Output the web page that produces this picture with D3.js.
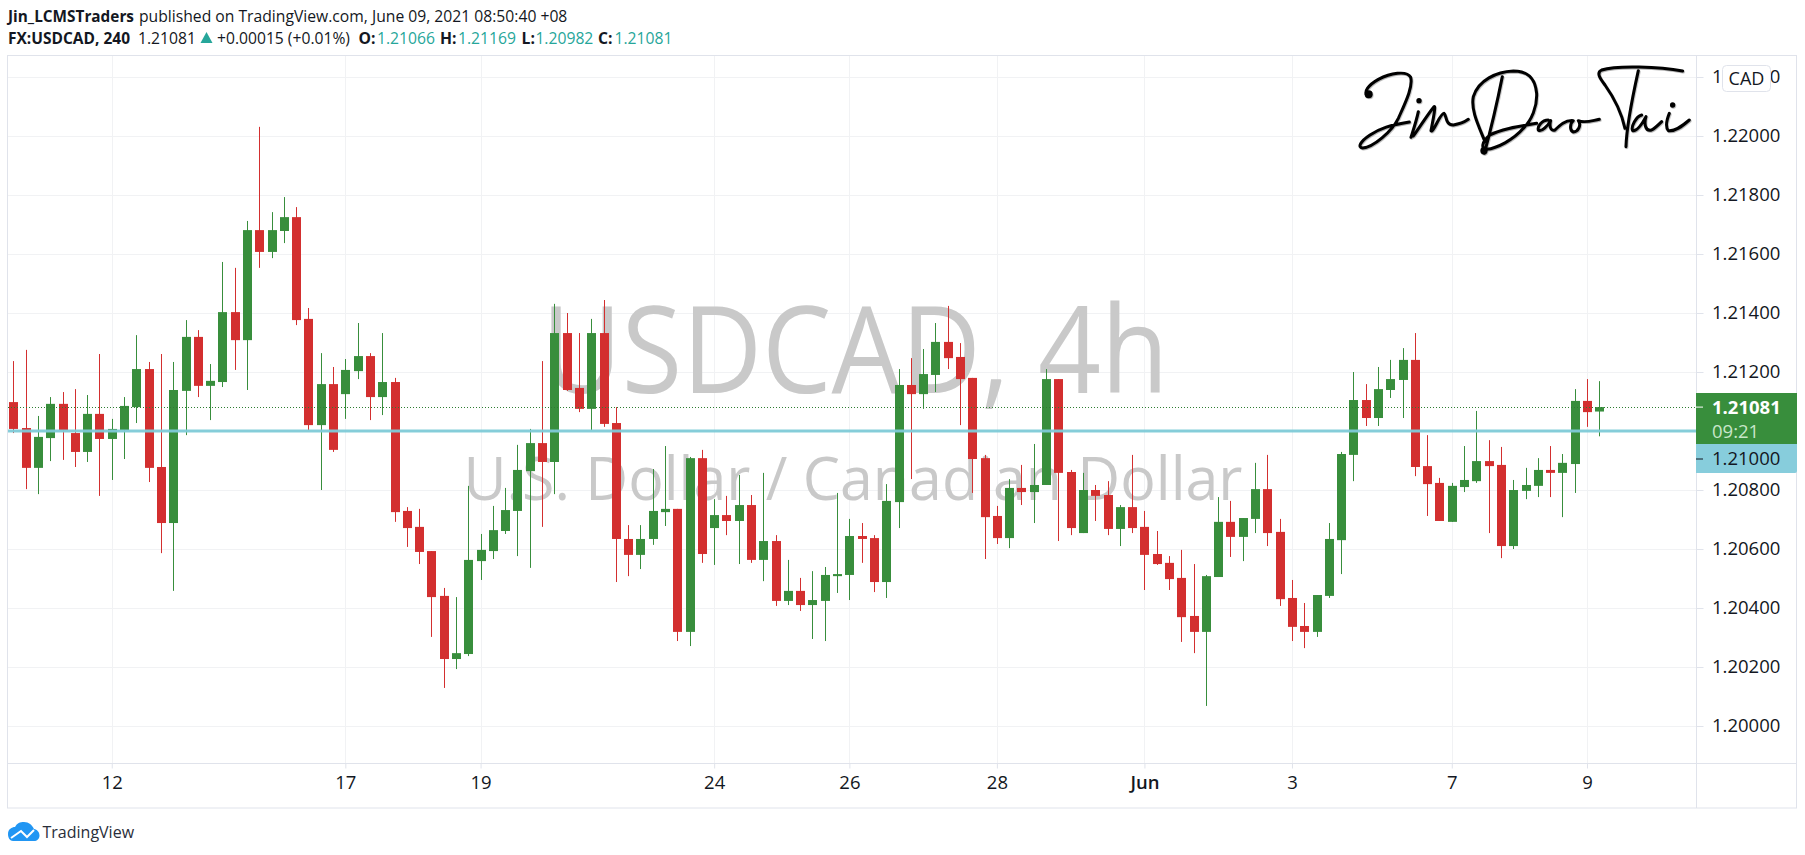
<!DOCTYPE html>
<html>
<head>
<meta charset="utf-8">
<script src="https://cdnjs.cloudflare.com/ajax/libs/d3/7.8.5/d3.min.js"></script>
<style>
  html, body { margin: 0; padding: 0; background: #fff; }
  svg { display: block; }
  text { font-family: "Open Sans", "Noto Sans", sans-serif; }
</style>
</head>
<body>
<div id="chart"></div>
<script>
// 4h USDCAD candles
const opens = [
  1.21098,1.21010,1.20875,1.20976,1.21092,1.20993,1.20929,1.21058,1.20973,1.21003,
  1.21081,1.21210,1.20878,1.20688,1.21136,1.21319,1.21153,1.21166,1.21403,1.21308,
  1.21681,1.21607,1.21678,1.21725,1.21380,1.21020,1.21159,1.21125,1.21203,1.21254,
  1.21115,1.21166,1.20729,1.20675,1.20593,1.20441,1.20227,1.20244,1.20559,1.20593,
  1.20661,1.20729,1.20864,1.20959,1.20895,1.21332,1.21146,1.21075,1.21332,1.21027,
  1.20634,1.20580,1.20634,1.20725,1.20736,1.20319,1.20908,1.20671,1.20715,1.20695,
  1.20749,1.20563,1.20627,1.20424,1.20458,1.20410,1.20424,1.20508,1.20512,1.20644,
  1.20637,1.20488,1.20759,1.21156,1.21125,1.21190,1.21302,1.21251,1.21180,1.20908,
  1.20712,1.20637,1.20807,1.20793,1.20817,1.21176,1.20861,1.20654,1.20800,1.20783,
  1.20668,1.20742,1.20675,1.20583,1.20553,1.20502,1.20373,1.20319,1.20505,1.20692,
  1.20641,1.20702,1.20803,1.20658,1.20434,1.20339,1.20319,1.20441,1.20630,1.20919,
  1.21105,1.21044,1.21139,1.21173,1.21241,1.20881,1.20824,1.20692,1.20810,1.20830,
  1.20898,1.20885,1.20610,1.20797,1.20814,1.20868,1.20858,1.20888,1.21102,1.21066
];
const highs = [
  1.21237,1.21275,1.21051,1.21115,1.21132,1.21142,1.21122,1.21261,1.21041,1.21115,
  1.21325,1.21234,1.21261,1.21234,1.21376,1.21342,1.21227,1.21573,1.21553,1.21712,
  1.22031,1.21742,1.21793,1.21759,1.21417,1.21264,1.21217,1.21244,1.21366,1.21264,
  1.21332,1.21180,1.20742,1.20736,1.20593,1.20468,1.20437,1.20814,1.20651,1.20746,
  1.20807,1.20953,1.21007,1.21237,1.21431,1.21400,1.21332,1.21380,1.21444,1.21081,
  1.20681,1.20681,1.20871,1.20949,1.20736,1.20912,1.20936,1.20769,1.20780,1.20851,
  1.20783,1.20858,1.20647,1.20563,1.20502,1.20525,1.20539,1.20790,1.20702,1.20688,
  1.20647,1.20820,1.21210,1.21247,1.21278,1.21366,1.21424,1.21298,1.21180,1.20919,
  1.20746,1.20837,1.20885,1.20956,1.21210,1.21176,1.20868,1.20858,1.20817,1.20830,
  1.20749,1.20919,1.20729,1.20661,1.20576,1.20597,1.20549,1.20512,1.20776,1.20763,
  1.20705,1.20892,1.20919,1.20702,1.20495,1.20417,1.20444,1.20688,1.20929,1.21200,
  1.21159,1.21217,1.21241,1.21281,1.21332,1.20986,1.20841,1.20824,1.20949,1.21068,
  1.20969,1.20946,1.20834,1.20875,1.20908,1.20949,1.20922,1.21142,1.21176,1.21169
];
const lows = [
  1.20993,1.20803,1.20786,1.20898,1.20902,1.20878,1.20895,1.20780,1.20834,1.20905,
  1.21027,1.20827,1.20586,1.20458,1.20986,1.21115,1.21037,1.21149,1.21207,1.21139,
  1.21553,1.21586,1.21637,1.21359,1.21003,1.20800,1.20929,1.21041,1.21176,1.21037,
  1.21054,1.20692,1.20607,1.20549,1.20302,1.20129,1.20193,1.20237,1.20495,1.20566,
  1.20651,1.20576,1.20536,1.20675,1.20786,1.21136,1.21064,1.21003,1.21014,1.20488,
  1.20508,1.20532,1.20614,1.20678,1.20288,1.20271,1.20553,1.20546,1.20647,1.20549,
  1.20553,1.20491,1.20407,1.20410,1.20390,1.20295,1.20288,1.20451,1.20427,1.20553,
  1.20454,1.20434,1.20671,1.20837,1.21075,1.21132,1.21210,1.21020,1.20790,1.20566,
  1.20617,1.20603,1.20749,1.20688,1.20817,1.20627,1.20647,1.20654,1.20695,1.20647,
  1.20610,1.20654,1.20461,1.20546,1.20461,1.20285,1.20247,1.20068,1.20505,1.20573,
  1.20559,1.20654,1.20610,1.20407,1.20288,1.20264,1.20302,1.20434,1.20515,1.20830,
  1.21017,1.21017,1.21112,1.21044,1.20847,1.20712,1.20695,1.20692,1.20793,1.20824,
  1.20654,1.20569,1.20600,1.20769,1.20776,1.20776,1.20708,1.20790,1.21014,1.20982
];
const closes = [
  1.21007,1.20875,1.20980,1.21092,1.21003,1.20929,1.21058,1.20973,1.21007,1.21085,
  1.21210,1.20875,1.20688,1.21139,1.21319,1.21153,1.21170,1.21403,1.21308,1.21681,
  1.21607,1.21681,1.21725,1.21376,1.21020,1.21159,1.20936,1.21207,1.21254,1.21115,
  1.21166,1.20725,1.20671,1.20590,1.20437,1.20227,1.20247,1.20563,1.20597,1.20664,
  1.20732,1.20868,1.20959,1.20895,1.21332,1.21139,1.21075,1.21332,1.21024,1.20634,
  1.20580,1.20634,1.20729,1.20736,1.20319,1.20908,1.20583,1.20715,1.20695,1.20749,
  1.20563,1.20627,1.20424,1.20458,1.20410,1.20427,1.20512,1.20515,1.20644,1.20634,
  1.20488,1.20763,1.21156,1.21125,1.21193,1.21302,1.21247,1.21176,1.20905,1.20708,
  1.20637,1.20807,1.20793,1.20817,1.21176,1.20858,1.20671,1.20800,1.20780,1.20668,
  1.20742,1.20671,1.20580,1.20549,1.20498,1.20369,1.20319,1.20508,1.20692,1.20641,
  1.20705,1.20803,1.20654,1.20430,1.20336,1.20319,1.20444,1.20634,1.20922,1.21105,
  1.21044,1.21142,1.21176,1.21241,1.20878,1.20820,1.20695,1.20814,1.20834,1.20898,
  1.20881,1.20610,1.20800,1.20817,1.20868,1.20858,1.20892,1.21102,1.21064,1.21081
];

const priceTicks = [1.20,1.202,1.204,1.206,1.208,1.212,1.214,1.216,1.218,1.22,1.222];
const timeTickBars = [8,27,38,57,68,80,92,104,117,128];
const timeTickLabels = ["12","17","19","24","26","28","Jun","3","7","9"];
const lastPrice = 1.21081;
const levelPrice = 1.21;

const width = 1805, height = 855;
const plot = { left: 8, top: 55.5, right: 1696, bottom: 763.5, outerRight: 1797, outerBottom: 808 };
const green = "#388e3c", red = "#d32f2f", teal = "#26a69a", ink = "#131722", gridColor = "#f1f2f4";

const svg = d3.select("#chart").append("svg").attr("width", width).attr("height", height);

const x = d3.scaleLinear().domain([0, 129]).range([13.4, 1599.3]);
const y = d3.scaleLinear().domain([1.20, 1.22]).range([726, 136]);

// grid
svg.append("g").selectAll("line").data(priceTicks).enter().append("line")
  .attr("x1", plot.left).attr("x2", plot.right)
  .attr("y1", d => Math.round(y(d)) + .5).attr("y2", d => Math.round(y(d)) + .5)
  .attr("stroke", gridColor);
svg.append("g").selectAll("line").data(timeTickBars).enter().append("line")
  .attr("x1", d => Math.round(x(d)) + .5).attr("x2", d => Math.round(x(d)) + .5)
  .attr("y1", plot.top).attr("y2", plot.bottom)
  .attr("stroke", gridColor);

// watermark
svg.append("text").attr("x", 855).attr("y", 393).attr("text-anchor", "middle")
  .attr("font-size", 120).attr("fill", "#c9c9c9")
  .attr("textLength", 627).attr("lengthAdjust", "spacingAndGlyphs")
  .text("USDCAD, 4h");
svg.append("text").attr("x", 853).attr("y", 500).attr("text-anchor", "middle")
  .attr("font-size", 60).attr("fill", "#c9c9c9")
  .attr("textLength", 779).attr("lengthAdjust", "spacingAndGlyphs")
  .text("U.S. Dollar / Canadian Dollar");

// candles
const bars = opens.map((o, i) => ({ i, o, h: highs[i], l: lows[i], c: closes[i] }));
const color = d => d.c >= d.o ? green : red;
const candles = svg.append("g").selectAll("g").data(bars).enter().append("g");
candles.append("line")
  .attr("x1", d => Math.round(x(d.i)) + .5).attr("x2", d => Math.round(x(d.i)) + .5)
  .attr("y1", d => y(d.h)).attr("y2", d => y(d.l))
  .attr("stroke", color);
candles.append("rect")
  .attr("x", d => Math.round(x(d.i)) - 4)
  .attr("width", 9)
  .attr("y", d => y(Math.max(d.o, d.c)))
  .attr("height", d => Math.max(2, Math.abs(y(d.o) - y(d.c))))
  .attr("fill", color);

// last price and level lines
svg.append("line").attr("x1", plot.left).attr("x2", plot.right)
  .attr("y1", Math.round(y(lastPrice)) + .5).attr("y2", Math.round(y(lastPrice)) + .5)
  .attr("stroke", "#2e7d32").attr("stroke-dasharray", "1 2");
svg.append("line").attr("x1", plot.left).attr("x2", plot.right)
  .attr("y1", y(levelPrice)).attr("y2", y(levelPrice))
  .attr("stroke", "#7fcbd8").attr("stroke-width", 3).attr("opacity", .95);

// frame
svg.append("rect").attr("x", plot.left - .5).attr("y", plot.top)
  .attr("width", plot.outerRight - plot.left).attr("height", plot.outerBottom - plot.top)
  .attr("fill", "none").attr("stroke", "#e0e3eb");
svg.append("line").attr("x1", plot.right + .5).attr("x2", plot.right + .5)
  .attr("y1", plot.top).attr("y2", plot.outerBottom).attr("stroke", "#e0e3eb");
svg.append("line").attr("x1", plot.left).attr("x2", plot.outerRight)
  .attr("y1", plot.bottom).attr("y2", plot.bottom).attr("stroke", "#e0e3eb");

// axes
const priceAxis = svg.append("g")
  .attr("transform", `translate(${plot.right + .5},0)`)
  .call(d3.axisRight(y).tickValues(priceTicks).tickFormat(d3.format(".5f")).tickSize(7).tickPadding(8.5));
const timeAxis = svg.append("g")
  .attr("transform", `translate(0,${plot.bottom})`)
  .call(d3.axisBottom(x).tickValues(timeTickBars).tickFormat((d, i) => timeTickLabels[i]).tickSize(5).tickPadding(7));
[priceAxis, timeAxis].forEach(a => {
  a.select(".domain").remove();
  a.selectAll("line").attr("stroke", "#e0e3eb");
  a.selectAll("text").attr("fill", ink)
    .style("font-family", '"Open Sans", sans-serif').style("font-size", "18.5px");
});
timeAxis.selectAll("text").filter((d, i) => timeTickLabels[i] === "Jun").style("font-weight", 600);

// last price tag
svg.append("rect").attr("x", plot.right).attr("y", 393).attr("width", plot.outerRight - plot.right).attr("height", 51).attr("fill", green);
svg.append("path").attr("d", `M${plot.right} 444H${plot.outerRight}V471a2 2 0 0 1 -2 2H${plot.right}Z`).attr("fill", "#87cddc");
svg.append("line").attr("x1", plot.right).attr("x2", plot.right + 7).attr("y1", y(lastPrice)).attr("y2", y(lastPrice)).attr("stroke", "#fff");
svg.append("line").attr("x1", plot.right).attr("x2", plot.right + 7).attr("y1", y(levelPrice) + 28).attr("y2", y(levelPrice) + 28).attr("stroke", ink);
svg.append("text").attr("x", 1712).attr("y", 414).attr("font-size", 18.5).attr("font-weight", 700).attr("fill", "#fff").text("1.21081");
svg.append("text").attr("x", 1712).attr("y", 438).attr("font-size", 18.5).attr("fill", "#c8e6c9").text("09:21");
svg.append("text").attr("x", 1712).attr("y", 465).attr("font-size", 18.5).attr("fill", ink).text("1.21000");

// currency badge
svg.append("rect").attr("x", 1722.5).attr("y", 65.5).attr("width", 48).attr("height", 26).attr("rx", 4)
  .attr("fill", "#fff").attr("stroke", "#e0e3eb");
svg.append("text").attr("x", 1746.5).attr("y", 85).attr("text-anchor", "middle").attr("font-size", 18).attr("fill", ink).text("CAD");

// signature (logo, drawn by hand)
const signature = [
  "M52 108C40 95 55 75 85 58C120 40 170 30 182 52C190 80 165 130 145 175C125 215 70 262 38 264C22 262 30 245 60 225C90 205 120 195 178 186",
  "M205 155C200 180 190 210 183 232",
  "M190 228C210 200 235 160 252 140C258 135 250 175 243 212C250 220 270 160 282 160C290 165 285 195 310 195C330 192 345 185 355 178",
  "M457 50C445 110 425 200 403 280",
  "M405 245C385 195 362 150 370 110C385 60 440 35 490 33C530 33 555 50 560 100C562 140 545 180 520 205C490 240 440 265 410 268C392 268 395 245 420 225C450 208 500 200 560 190",
  "M595 180C575 180 562 200 565 210C575 218 595 195 602 182C598 195 600 215 615 210C630 195 645 180 670 182C660 190 658 212 670 216C685 215 695 195 685 182C705 190 725 182 748 178",
  "M998 33C930 20 800 15 755 30C738 38 750 55 765 75C790 110 815 160 825 205",
  "M865 32C850 100 830 190 828 260",
  "M875 165C858 170 842 200 848 212C862 215 880 185 888 170C882 190 885 215 905 210C915 205 925 195 935 185",
  "M958 160C950 180 945 200 955 212C975 215 995 200 1018 180"
].join("");
const sig = svg.append("g").attr("transform", "translate(1350,60) scale(.3333)")
  .style("filter", "drop-shadow(2px 3px 2px rgba(0,0,0,.3))");
sig.append("path").attr("d", signature)
  .attr("fill", "none").attr("stroke", "#000").attr("stroke-width", 9)
  .attr("stroke-linecap", "round").attr("stroke-linejoin", "round");
[[56, 103, 12], [207, 122, 8], [968, 135, 8], [402, 272, 11]].forEach(d => {
  sig.append("circle").attr("cx", d[0]).attr("cy", d[1]).attr("r", d[2]).attr("fill", "#000");
});

// header
const head = svg.append("g").attr("font-size", 15.7).attr("fill", ink);
head.append("text").attr("x", 8).attr("y", 22).attr("font-weight", 700).attr("textLength", 126).attr("lengthAdjust", "spacingAndGlyphs").text("Jin_LCMSTraders");
head.append("text").attr("x", 139).attr("y", 22).text("published on TradingView.com, June 09, 2021 08:50:40 +08");
head.append("text").attr("x", 8).attr("y", 44).attr("font-weight", 700).attr("textLength", 122).attr("lengthAdjust", "spacingAndGlyphs").text("FX:USDCAD, 240");
head.append("text").attr("x", 138).attr("y", 44).text("1.21081");
head.append("path").attr("d", "M200.5 43L206.5 32L212.5 43Z").attr("fill", teal);
head.append("text").attr("x", 217).attr("y", 44).attr("textLength", 133).attr("lengthAdjust", "spacingAndGlyphs").text("+0.00015 (+0.01%)");
const ohlc = [["O:", 1.21066, 358.6, 377], ["H:", 1.21169, 440, 458], ["L:", 1.20982, 521.6, 535.4], ["C:", 1.21081, 598, 614.5]];
ohlc.forEach(r => {
  head.append("text").attr("x", r[2]).attr("y", 44).attr("font-weight", 700).text(r[0]);
  head.append("text").attr("x", r[3]).attr("y", 44).attr("fill", teal).text(r[1].toFixed(5));
});

// TradingView logo
svg.append("path").attr("d", "M8 834C8 829 12 827 15 827C17 823 20 822 24 822C29 822 32 825 34 829C37 829.5 39.5 832 39.5 835.5C39.5 839 37 841 34 841H13C10 841 8 838 8 834Z").attr("fill", "#2196f3");
svg.append("path").attr("d", "M11 838L21 831L27 837L34 830").attr("fill", "none").attr("stroke", "#fff").attr("stroke-width", 2);
svg.append("text").attr("x", 42.5).attr("y", 837.5).attr("font-size", 16).attr("fill", "#2a2e39").text("TradingView");
</script>
</body>
</html>
